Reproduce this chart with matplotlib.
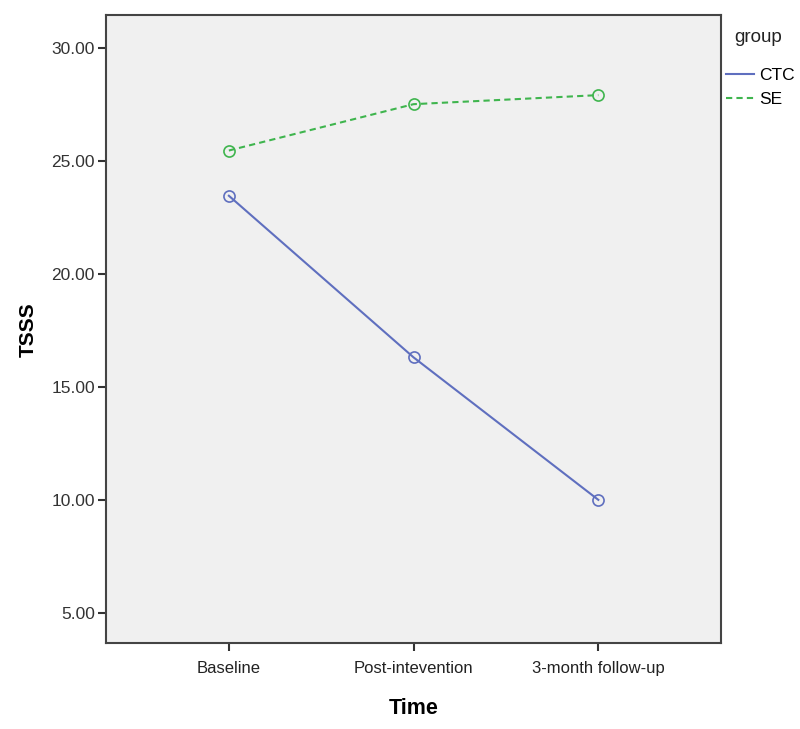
import numpy as np
import matplotlib.pyplot as plt

plt.rcParams['font.family'] = ['Liberation Sans', 'DejaVu Sans']

time_labels = ["Baseline", "Post-intevention", "3-month follow-up"]
ctc_values = [23.45, 16.3, 10.0]
se_values = [25.45, 27.5, 27.9]
y_ticks = [5, 10, 15, 20, 25, 30]

ctc_color = "#5f6fbf"
se_color = "#3fb54e"

fig = plt.figure(figsize=(8, 7.29), dpi=100)
ax = fig.add_axes([0.1325, 0.118, 0.769, 0.861])
ax.set_facecolor("#f0f0f0")

x = np.arange(len(time_labels))
ax.plot(x, ctc_values, color=ctc_color, lw=1.5, ls='-', marker='o', ms=8,
        mfc='none', mec=ctc_color, mew=1.2, label="CTC")
ax.plot(x, se_values, color=se_color, lw=1.5, ls=(0, (3, 2)), marker='o', ms=8,
        mfc='none', mec=se_color, mew=1.2, label="SE")

ax.set_xlim(-0.665, 2.665)
ax.set_ylim(3.67, 31.43)
ax.set_xticks(x)
ax.set_xticklabels(time_labels, fontsize=12, color="#222222")
ax.set_yticks(y_ticks)
ax.set_yticklabels([f"{v:.2f}" for v in y_ticks], fontsize=12.5, color="#333333")
ax.tick_params(axis='both', length=6, width=1.5, color="#333333", pad=2)
ax.tick_params(axis='x', pad=7)

for s in ax.spines.values():
    s.set_linewidth(1.5)
    s.set_color("#444444")

ax.set_ylabel("TSSS", fontsize=15, fontweight="bold", labelpad=10)
ax.set_xlabel("Time", fontsize=15.5, fontweight="bold", labelpad=16)

# legend: title placed separately so the gap matches the reference
fig.text(734 / 800, 1 - 38 / 729, "group", fontsize=13.5, color="#222222",
         ha='left', va='center')
leg = fig.legend(loc='upper left', bbox_to_anchor=(726 / 800, 1 - 68 / 729),
                 frameon=False, fontsize=12.5, handlelength=1.6,
                 handletextpad=0.3, borderaxespad=0, borderpad=0,
                 labelspacing=0.5)
for h in leg.legend_handles:
    h.set_marker('')

fig.savefig("out.png", dpi=100)
